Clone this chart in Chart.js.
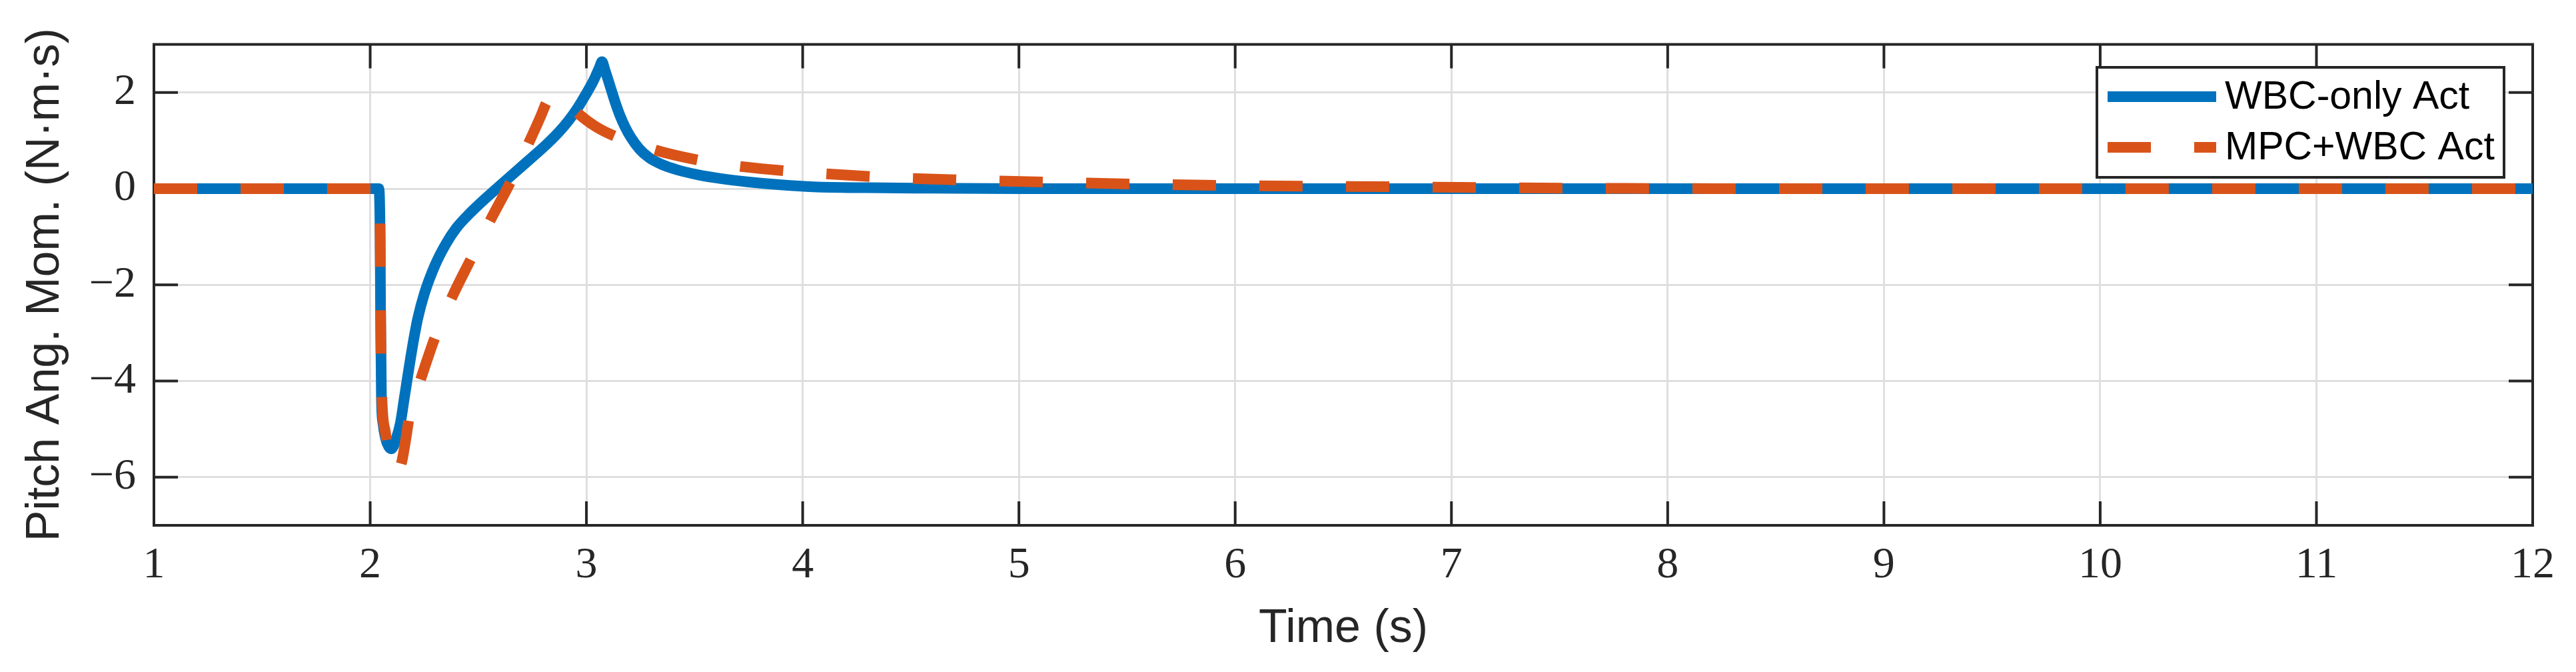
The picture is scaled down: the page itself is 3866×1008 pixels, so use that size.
<!DOCTYPE html>
<html>
<head>
<meta charset="utf-8">
<title>Pitch Ang. Mom.</title>
<script src="https://cdn.jsdelivr.net/npm/chart.js@4.4.1/dist/chart.umd.min.js"></script>
<style>
  html, body { margin: 0; padding: 0; background: #ffffff; }
  #box { width: 3866px; height: 1008px; position: relative; }
</style>
</head>
<body>
<div id="box"><canvas id="pitchChart" width="3866" height="1008"></canvas></div>
<script>

// valori (tempo in s, momento in N·m·s)
var timeWbc = [1, 2.04, 2.046, 2.048, 2.052, 2.059, 2.071, 2.085, 2.098, 2.12, 2.14, 2.158, 2.195, 2.22, 2.25, 2.3, 2.35, 2.4, 2.45, 2.5, 2.584, 2.69, 2.761, 2.82, 2.873, 2.92, 2.961, 2.996, 3.032, 3.06, 3.072, 3.086, 3.102, 3.12, 3.138, 3.156, 3.178, 3.205, 3.244, 3.291, 3.35, 3.421, 3.515, 3.621, 3.75, 3.9, 4.05, 4.3, 4.6, 5, 12];
var wbcOnly = [0, 0, -1.0, -2.5, -4.35, -4.87, -5.19, -5.36, -5.41, -5.2, -4.87, -4.35, -3.3, -2.7, -2.19, -1.59, -1.15, -0.81, -0.56, -0.34, 0, 0.42, 0.7, 0.94, 1.18, 1.43, 1.69, 1.95, 2.24, 2.52, 2.64, 2.46, 2.24, 1.98, 1.73, 1.51, 1.29, 1.07, 0.83, 0.64, 0.5, 0.39, 0.29, 0.21, 0.14, 0.08, 0.04, 0.02, 0.01, 0, 0];

var timeMpc = [1, 2.04, 2.046, 2.048, 2.05, 2.053, 2.071, 2.09, 2.11, 2.125, 2.145, 2.165, 2.183, 2.236, 2.3, 2.377, 2.466, 2.554, 2.649, 2.731, 2.79, 2.814, 2.835, 2.855, 2.89, 2.955, 3.04, 3.132, 3.32, 3.521, 3.678, 4.01, 4.41, 4.81, 5.21, 5.61, 6.01, 6.41, 6.81, 7.21, 7.6, 8.5, 12];
var mpcWbc = [0, 0, -1.0, -2.5, -3.4, -4.19, -5.08, -5.55, -5.82, -5.88, -5.7, -5.2, -4.69, -3.93, -3.09, -2.27, -1.46, -0.67, 0.14, 0.93, 1.52, 1.78, 1.92, 1.96, 1.88, 1.59, 1.3, 1.09, 0.8, 0.59, 0.48, 0.34, 0.23, 0.17, 0.13, 0.09, 0.065, 0.05, 0.037, 0.02, 0.01, 0, 0];

var seriesNames = ['WBC-only Act', 'MPC+WBC Act'];
var xTicks = [1, 2, 3, 4, 5, 6, 7, 8, 9, 10, 11, 12];
var yTicks = [-6, -4, -2, 0, 2];

var axisColor = '#262626';
var tickFont = { family: 'Liberation Serif', size: 66 };
var labelFont = { family: 'Liberation Sans', size: 70 };


function toPoints(xs, ys) {
  var pts = [];
  for (var i = 0; i < xs.length; i++) {
    pts.push({ x: xs[i], y: ys[i] });
  }
  return pts;
}


// riquadro stile matlab: bordo su 4 lati + tacche verso l'interno
var boxPlugin = {
  id: 'boxPlugin',
  beforeDatasetsDraw: function(chart) {
    var ctx = chart.ctx;
    var a = chart.chartArea;
    var sx = chart.scales.x;
    var sy = chart.scales.y;
    var len = 36;

    ctx.save();
    ctx.strokeStyle = axisColor;
    ctx.lineWidth = 4;
    ctx.beginPath();
    for (var i = 0; i < xTicks.length; i++) {
      var px = sx.getPixelForValue(xTicks[i]);
      ctx.moveTo(px, a.bottom); ctx.lineTo(px, a.bottom - len);
      ctx.moveTo(px, a.top); ctx.lineTo(px, a.top + len);
    }
    for (var j = 0; j < yTicks.length; j++) {
      var py = sy.getPixelForValue(yTicks[j]);
      ctx.moveTo(a.left, py); ctx.lineTo(a.left + len, py);
      ctx.moveTo(a.right, py); ctx.lineTo(a.right - len, py);
    }
    ctx.stroke();
    ctx.strokeRect(a.left, a.top, a.right - a.left, a.bottom - a.top);
    ctx.restore();
  }
};


// legenda dentro il grafico in alto a destra
var legendPlugin = {
  id: 'legendPlugin',
  afterDraw: function(chart) {
    var ctx = chart.ctx;
    var bx = 3147, by = 101, bw = 611, bh = 165;
    var rows = [145, 221];

    ctx.save();
    ctx.fillStyle = '#ffffff';
    ctx.fillRect(bx, by, bw, bh);
    ctx.strokeStyle = axisColor;
    ctx.lineWidth = 4;
    ctx.strokeRect(bx, by, bw, bh);

    for (var i = 0; i < chart.data.datasets.length; i++) {
      var ds = chart.data.datasets[i];
      ctx.beginPath();
      ctx.setLineDash(ds.borderDash || []);
      ctx.lineCap = 'butt';
      ctx.strokeStyle = ds.borderColor;
      ctx.lineWidth = ds.borderWidth;
      ctx.moveTo(3163, rows[i]);
      ctx.lineTo(3326, rows[i]);
      ctx.stroke();
      ctx.setLineDash([]);

      ctx.fillStyle = '#000000';
      ctx.font = '59px "Liberation Sans"';
      ctx.textAlign = 'left';
      ctx.textBaseline = 'middle';
      ctx.fillText(ds.label, 3339, rows[i] + 2);
    }
    ctx.restore();
  }
};


function pitchChart() {

  var ctx = document.getElementById('pitchChart').getContext('2d');
  var chart = new Chart(ctx, {
    type: 'line',
    data: {
      datasets: [{
        label: seriesNames[0],
        data: toPoints(timeWbc, wbcOnly),
        borderColor: '#0072BD',
        borderWidth: 16,
        borderCapStyle: 'butt',
        cubicInterpolationMode: 'monotone',
        pointRadius: 0,
        fill: false,
        order: 2
      }, {
        label: seriesNames[1],
        data: toPoints(timeMpc, mpcWbc),
        borderColor: '#D95319',
        borderWidth: 16,
        borderDash: [65, 65],
        borderCapStyle: 'butt',
        cubicInterpolationMode: 'monotone',
        pointRadius: 0,
        fill: false,
        order: 1
      }]
    },
    options: {
      responsive: false,
      animation: false,
      events: [],
      layout: { padding: { left: 0, right: 65, top: 62, bottom: 0 } },
      plugins: {
        legend: { display: false },
        tooltip: { enabled: false }
      },
      scales: {
        x: {
          type: 'linear',
          min: 1,
          max: 12,
          afterBuildTicks: function(scale) {
            scale.ticks = xTicks.map(function(v) { return { value: v }; });
          },
          afterFit: function(scale) { scale.height = 220; },
          grid: { color: '#dfdfdf', lineWidth: 3, drawTicks: false },
          border: { display: false },
          ticks: {
            font: tickFont,
            color: axisColor,
            padding: 21,
            maxRotation: 0,
            autoSkip: false
          },
          title: {
            display: true,
            text: 'Time (s)',
            font: labelFont,
            color: axisColor,
            padding: { top: 0, bottom: 22 }
          }
        },
        y: {
          type: 'linear',
          min: -7,
          max: 3,
          afterBuildTicks: function(scale) {
            scale.ticks = yTicks.map(function(v) { return { value: v }; });
          },
          afterFit: function(scale) { scale.width = 231; },
          grid: { color: '#dfdfdf', lineWidth: 3, drawTicks: false },
          border: { display: false },
          ticks: {
            font: tickFont,
            color: axisColor,
            padding: 27,
            callback: function(v) { return v < 0 ? '\u2212' + Math.abs(v) : String(v); }
          },
          title: {
            display: true,
            text: 'Pitch Ang. Mom. (N\u00b7m\u00b7s)',
            font: labelFont,
            color: axisColor,
            padding: { top: 27, bottom: 0 }
          }
        }
      }
    },
    plugins: [boxPlugin, legendPlugin]
  });

}


function init() {
  pitchChart();
}

init();

</script>
</body>
</html>
